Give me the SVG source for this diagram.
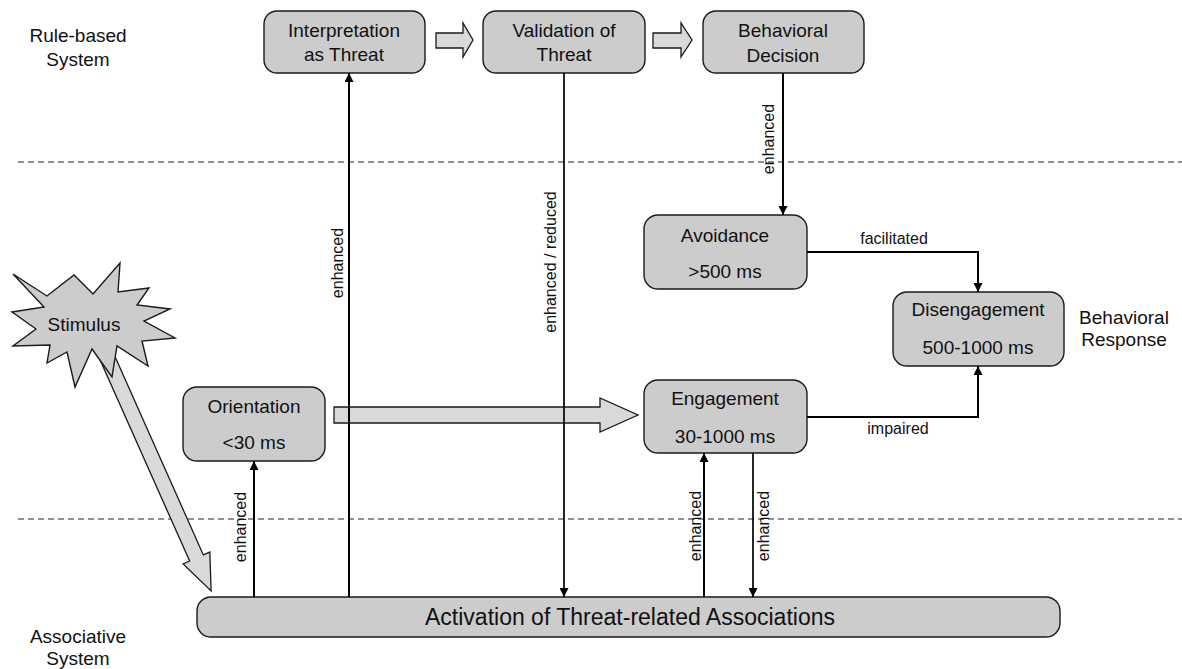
<svg xmlns="http://www.w3.org/2000/svg" width="1182" height="669" viewBox="0 0 1182 669">
<style>
text{font-family:"Liberation Sans",Arial,Helvetica,sans-serif;fill:#111}
.box{fill:#cccccc;stroke:#1a1a1a;stroke-width:1.4}
.bt{font-size:19px;text-anchor:middle}
.side{font-size:19px;text-anchor:middle}
.lbl{font-size:16px;text-anchor:middle}
.rl{font-size:16px;text-anchor:middle;dominant-baseline:central}
.hollow{fill:#d9d9d9;stroke:#1a1a1a;stroke-width:1.3;stroke-linejoin:miter}
.con{fill:none;stroke:#000;stroke-width:2}
.dash{stroke:#222;stroke-width:1.2;stroke-dasharray:6 4;fill:none}
</style>
<defs>
<marker id="ah" viewBox="0 0 10 10" refX="10" refY="5" markerWidth="10" markerHeight="9" markerUnits="userSpaceOnUse" orient="auto">
<path d="M0,0 L10,5 L0,10 Z" fill="#000"/>
</marker>
</defs>
<rect width="1182" height="669" fill="#fff"/>

<g id="lanes">
<line class="dash" x1="18" y1="162" x2="1182" y2="162"/>
<line class="dash" x1="18" y1="519" x2="1182" y2="519"/>
<text class="side" x="78" y="42">Rule-based</text>
<text class="side" x="78" y="66">System</text>
<text class="side" x="78" y="643">Associative</text>
<text class="side" x="78" y="665">System</text>
<text class="side" x="1124" y="324">Behavioral</text>
<text class="side" x="1124" y="346">Response</text>
</g>

<g id="hollow-arrows">
<polygon class="hollow" points="436,33 463,33 463,23 473,40 463,57 463,48 436,48"/>
<polygon class="hollow" points="653,33 681,33 681,23 692,40 681,57 681,48 653,48"/>
<polygon class="hollow" points="334,407 600,407 600,398 638,415 600,432 600,423 334,423"/>
<polygon class="hollow" transform="translate(107,357) rotate(66)" points="0,-7.5 220,-7.5 220,-14.6 256,0 220,14.6 220,7.5 0,7.5"/>
</g>

<g id="stimulus">
<polygon class="box" points="13,274 47,296 74,275 93,294 120,263 118,292 149,288 137,305 170,309 144,321 175,338 142,341 148,366 117,346 112,377 92,349 75,387 67,352 47,363 50,345 13,346 36,329 12,312 44,307"/>
<text class="bt" x="84" y="331">Stimulus</text>
</g>

<g id="interpretation">
<rect class="box" x="264" y="11" width="161" height="62" rx="13"/>
<text class="bt" x="344" y="37">Interpretation</text>
<text class="bt" x="344" y="61">as Threat</text>
</g>
<g id="validation">
<rect class="box" x="483" y="11" width="162" height="62" rx="13"/>
<text class="bt" x="564" y="37">Validation of</text>
<text class="bt" x="564" y="61">Threat</text>
</g>
<g id="decision">
<rect class="box" x="703" y="11" width="161" height="62" rx="13"/>
<text class="bt" x="783" y="37">Behavioral</text>
<text class="bt" x="783" y="62">Decision</text>
</g>
<g id="avoidance">
<rect class="box" x="644" y="215" width="163" height="74" rx="14"/>
<text class="bt" x="725" y="242">Avoidance</text>
<text class="bt" x="725" y="278">&gt;500 ms</text>
</g>
<g id="disengagement">
<rect class="box" x="893" y="292" width="171" height="74" rx="14"/>
<text class="bt" x="978" y="316">Disengagement</text>
<text class="bt" x="978" y="354">500-1000 ms</text>
</g>
<g id="engagement">
<rect class="box" x="644" y="380" width="163" height="73" rx="14"/>
<text class="bt" x="725" y="405">Engagement</text>
<text class="bt" x="725" y="443">30-1000 ms</text>
</g>
<g id="orientation">
<rect class="box" x="183" y="387" width="142" height="74" rx="14"/>
<text class="bt" x="254" y="413">Orientation</text>
<text class="bt" x="254" y="449">&lt;30 ms</text>
</g>
<g id="activation">
<rect class="box" x="197" y="597" width="863" height="40" rx="14"/>
<text x="630" y="625" style="font-size:23px;text-anchor:middle">Activation of Threat-related Associations</text>
</g>

<g id="connectors">
<path class="con" d="M349,597 V73" marker-end="url(#ah)"/>
<path class="con" d="M564,73 V597" marker-end="url(#ah)" style="stroke-width:1.7"/>
<path class="con" d="M783,73 V215" marker-end="url(#ah)"/>
<path class="con" d="M807,252 H978 V292" marker-end="url(#ah)"/>
<path class="con" d="M807,417 H978 V366" marker-end="url(#ah)"/>
<path class="con" d="M254,597 V461" marker-end="url(#ah)"/>
<path class="con" d="M704,597 V453" marker-end="url(#ah)"/>
<path class="con" d="M753,453 V597" marker-end="url(#ah)" style="stroke-width:1.7"/>
<text class="rl" transform="rotate(-90 337 263)" x="337" y="263">enhanced</text>
<text class="rl" transform="rotate(-90 550 262)" x="550" y="262">enhanced / reduced</text>
<text class="rl" transform="rotate(-90 768 139)" x="768" y="139">enhanced</text>
<text class="rl" transform="rotate(-90 240 527)" x="240" y="527">enhanced</text>
<text class="rl" transform="rotate(-90 695 526)" x="695" y="526">enhanced</text>
<text class="rl" transform="rotate(-90 763 526)" x="763" y="526">enhanced</text>
<text class="lbl" x="894" y="244">facilitated</text>
<text class="lbl" x="898" y="434">impaired</text>
</g>
</svg>
